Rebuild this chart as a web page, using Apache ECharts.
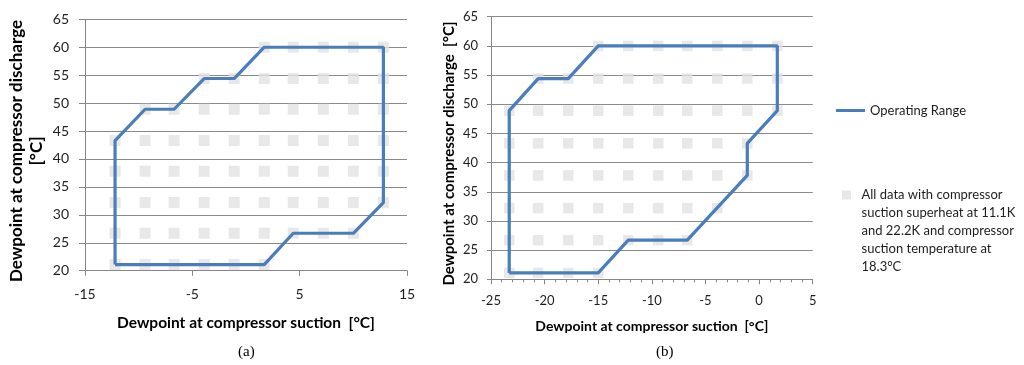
<!DOCTYPE html>
<html><head><meta charset="utf-8">
<script src="https://cdn.jsdelivr.net/npm/echarts@6/dist/echarts.min.js"></script>
<style>html,body{margin:0;padding:0;background:#fff}#c{width:1024px;height:365px}</style>
</head><body><div id="c"></div>
<script>
// ---- data ----
const yLevels = [21.1, 26.7, 32.2, 37.8, 43.3, 48.9, 54.4, 60];

// chart (a): x values of the grey data squares, one list per y level (same order as yLevels)
const rowsA = [
  [-12.2, -9.4, -6.7, -3.9, -1.1, 1.7],
  [-12.2, -9.4, -6.7, -3.9, -1.1, 1.7, 4.4, 7.2, 10],
  [-12.2, -9.4, -6.7, -3.9, -1.1, 1.7, 4.4, 7.2, 10, 12.8],
  [-12.2, -9.4, -6.7, -3.9, -1.1, 1.7, 4.4, 7.2, 10, 12.8],
  [-12.2, -9.4, -6.7, -3.9, -1.1, 1.7, 4.4, 7.2, 10, 12.8],
  [-9.4, -6.7, -3.9, -1.1, 1.7, 4.4, 7.2, 10, 12.8],
  [-3.9, -1.1, 1.7, 4.4, 7.2, 10, 12.8],
  [1.7, 4.4, 7.2, 10, 12.8]
];
const rangeAx = [-12.2, -12.2, -9.4, -6.7, -3.9, -1.1, 1.7, 12.8, 12.8, 10, 4.4, 1.7, -12.2];
const rangeAy = [21.1, 43.3, 48.9, 48.9, 54.4, 54.4, 60, 60, 32.2, 26.7, 26.7, 21.1, 21.1];

// chart (b)
const rowsB = [
  [-23.3, -20.6, -17.8, -15],
  [-23.3, -20.6, -17.8, -15, -12.2, -9.4, -6.7],
  [-23.3, -20.6, -17.8, -15, -12.2, -9.4, -6.7, -3.9],
  [-23.3, -20.6, -17.8, -15, -12.2, -9.4, -6.7, -3.9, -1.1],
  [-23.3, -20.6, -17.8, -15, -12.2, -9.4, -6.7, -3.9, -1.1],
  [-23.3, -20.6, -17.8, -15, -12.2, -9.4, -6.7, -3.9, -1.1, 1.7],
  [-20.6, -17.8, -15, -12.2, -9.4, -6.7, -3.9, -1.1, 1.7],
  [-15, -12.2, -9.4, -6.7, -3.9, -1.1, 1.7]
];
const rangeBx = [-23.3, -23.3, -20.6, -17.8, -15, 1.7, 1.7, -1.1, -1.1, -6.7, -12.2, -15, -23.3];
const rangeBy = [21.1, 48.9, 54.4, 54.4, 60, 60, 48.9, 43.3, 37.8, 26.7, 26.7, 21.1, 21.1];

const lineName = 'Operating Range';
const dataName = 'All data with compressor suction superheat at 11.1K and 22.2K and compressor suction temperature at 18.3°C';
const dataNameLines = ['All data with compressor', 'suction superheat at 11.1K', 'and 22.2K and compressor', 'suction temperature at', '18.3°C'];
const xNameText = 'Dewpoint at compressor suction  [°C]';
const yNameA = 'Dewpoint at compressor discharge\n[°C]';
const yNameB = 'Dewpoint at compressor discharge  [°C]';
const captions = ['(a)', '(b)'];

// ---- build ----
function squares(rows) {
  const out = [];
  rows.forEach((xs, i) => xs.forEach(x => out.push([x, yLevels[i]])));
  return out;
}
function pairs(xs, ys) { return xs.map((x, i) => [x, ys[i]]); }

const FONT = 'Lato';
const AX = '#868686';
const GRIDC = '#8a8a8a';
const LBL = '#1e1e1e';
const BLUE = '#4a7ebb';
const SQ = '#e2e2e2';

function yAxis(gi, nameText, nameGap, fs, tickLen, margin, nameFs, shift) {
  return {
    type: 'value', gridIndex: gi, min: 20, max: 65, interval: 5,
    axisLine: { show: true, onZero: false, lineStyle: { color: AX, width: 1 } },
    axisTick: { show: true, length: tickLen, lineStyle: { color: AX } },
    splitLine: { show: true, lineStyle: { color: GRIDC, width: 1 } },
    axisLabel: { fontSize: fs, color: LBL, fontFamily: FONT, margin: margin },
    name: nameText, nameLocation: 'middle', nameGap: nameGap, nameRotate: 90,
    nameTextStyle: { fontFamily: FONT, fontWeight: 'bold', fontSize: nameFs, color: '#000', lineHeight: 20, padding: [0, shift, 0, 0] }
  };
}

const option = {
  animation: false,
  backgroundColor: '#fff',
  title: [
    { text: captions[0], left: 238, top: 345, padding: 0, textStyle: { fontFamily: 'Liberation Serif', fontWeight: 'normal', fontSize: 15, color: '#000' } },
    { text: captions[1], left: 656, top: 345, padding: 0, textStyle: { fontFamily: 'Liberation Serif', fontWeight: 'normal', fontSize: 15, color: '#000' } }
  ],
  grid: [
    { left: 85, top: 19.3, width: 322, height: 251.4 },
    { left: 491, top: 16.7, width: 321.7, height: 262.6 }
  ],
  xAxis: [
    {
      type: 'value', gridIndex: 0, min: -15, max: 15, interval: 10,
      axisLine: { show: true, onZero: false, lineStyle: { color: AX } },
      axisTick: { show: true, length: 5, lineStyle: { color: AX } },
      splitLine: { show: false },
      axisLabel: { fontSize: 14, color: LBL, fontFamily: FONT, margin: 17 },
      name: xNameText, nameLocation: 'middle', nameGap: 44,
      nameTextStyle: { fontFamily: FONT, fontWeight: 'bold', fontSize: 15.5, color: '#000' }
    },
    {
      type: 'value', gridIndex: 1, min: -25, max: 5, interval: 5,
      axisLine: { show: true, onZero: false, lineStyle: { color: AX } },
      axisTick: { show: true, length: 5, lineStyle: { color: AX } },
      minorTick: { show: true, splitNumber: 5, length: 3, lineStyle: { color: AX } },
      splitLine: { show: false },
      axisLabel: { fontSize: 13, color: LBL, fontFamily: FONT, margin: 15 },
      name: xNameText, nameLocation: 'middle', nameGap: 40,
      nameTextStyle: { fontFamily: FONT, fontWeight: 'bold', fontSize: 14, color: '#000' }
    }
  ],
  yAxis: [
    yAxis(0, yNameA, 38, 14, 6, 16, 17, 12),
    yAxis(1, yNameB, 31, 13, 4, 13, 15, 11)
  ],
  legend: [
    {
      data: [{ name: lineName, icon: 'rect' }], orient: 'vertical', left: 836, top: 104, padding: 0,
      itemWidth: 29, itemHeight: 3,
      textStyle: { fontFamily: FONT, fontSize: 13, color: LBL }
    },
    {
      data: [{ name: dataName, icon: 'path://M0,0L10,0L10,10L0,10Z' }],
      orient: 'vertical', left: 842, top: 114, padding: 0,
      itemWidth: 20, itemHeight: 9,
      formatter: () => '\n\n\n\n' + dataNameLines.join('\n'),
      textStyle: { fontFamily: FONT, fontSize: 13, color: LBL, lineHeight: 18 }
    }
  ],
  series: [
    {
      name: dataName, type: 'scatter', xAxisIndex: 0, yAxisIndex: 0,
      symbol: 'rect', symbolSize: 11, itemStyle: { color: SQ }, z: 1,
      data: squares(rowsA)
    },
    {
      name: lineName, type: 'line', xAxisIndex: 0, yAxisIndex: 0,
      symbol: 'none', lineStyle: { color: BLUE, width: 3.2 }, itemStyle: { color: BLUE }, z: 3,
      data: pairs(rangeAx, rangeAy)
    },
    {
      name: dataName, type: 'scatter', xAxisIndex: 1, yAxisIndex: 1,
      symbol: 'rect', symbolSize: 10.5, itemStyle: { color: SQ }, z: 1,
      data: squares(rowsB)
    },
    {
      name: lineName, type: 'line', xAxisIndex: 1, yAxisIndex: 1,
      symbol: 'none', lineStyle: { color: BLUE, width: 3.2 }, itemStyle: { color: BLUE }, z: 3,
      data: pairs(rangeBx, rangeBy)
    }
  ]
};

const chart = echarts.init(document.getElementById('c'), null, { renderer: 'canvas' });
chart.setOption(option);
</script>
</body></html>
